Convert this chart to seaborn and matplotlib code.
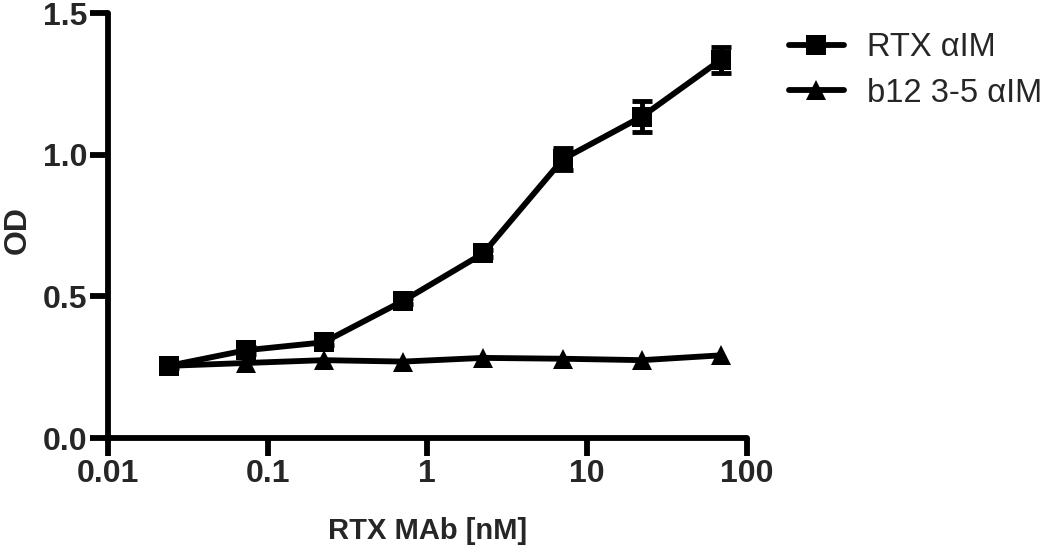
import numpy as np
import pandas as pd
import seaborn as sns
import matplotlib.pyplot as plt

# concentrations
conc_nm = [0.024, 0.073, 0.224, 0.708, 2.24, 7.08, 22.1, 68.8]

rtx_od = [0.255, 0.31, 0.338, 0.485, 0.652, 0.985, 1.135, 1.335]
rtx_err = [0.008, 0.012, 0.01, 0.01, 0.012, 0.04, 0.055, 0.045]
b12_od = [0.255, 0.265, 0.275, 0.27, 0.283, 0.28, 0.275, 0.292]

series_names = ['RTX \u03b1IM', 'b12 3-5 \u03b1IM']

sns.set_theme(style='white')
plt.rcParams['font.family'] = ['Liberation Sans', 'DejaVu Sans']

df = pd.DataFrame({
    'conc': conc_nm * 2,
    'od': rtx_od + b12_od,
    'series': [series_names[0]] * len(conc_nm) + [series_names[1]] * len(conc_nm),
})

fig = plt.figure(figsize=(10.5, 5.51), dpi=100)
ax = fig.add_axes([0.103, 0.205, 0.608, 0.771])

sns.lineplot(data=df, x='conc', y='od', hue='series', style='series',
             markers={series_names[0]: 's', series_names[1]: '^'}, dashes=False,
             palette=['black', 'black'], linewidth=4.2, markersize=14,
             markeredgewidth=0, ax=ax, legend=True)

# error bars for the RTX series
ax.errorbar(conc_nm, rtx_od, yerr=rtx_err, fmt='none', ecolor='black',
            elinewidth=3.5, capsize=7.5, capthick=3.5, zorder=3)

ax.set_xscale('log')
ax.set_xlim(0.01, 100)
ax.set_ylim(0, 1.5)
ax.set_xticks([0.01, 0.1, 1, 10, 100])
ax.set_xticklabels(['0.01', '0.1', '1', '10', '100'])
ax.minorticks_off()
ax.set_yticks([0.0, 0.5, 1.0, 1.5])
ax.set_yticklabels(['0.0', '0.5', '1.0', '1.5'])

for side in ['top', 'right']:
    ax.spines[side].set_visible(False)
for side in ['left', 'bottom']:
    ax.spines[side].set_linewidth(4.2)
    ax.spines[side].set_color('black')
    ax.spines[side].set_capstyle('round')

ax.tick_params(axis='both', which='major', length=13, width=4.2, color='black',
               labelsize=23, pad=2, direction='out', bottom=True, left=True)
for lab in ax.get_xticklabels() + ax.get_yticklabels():
    lab.set_fontweight('bold')

ax.set_xlabel('RTX MAb [nM]', fontsize=21, fontweight='bold', labelpad=20)
ax.set_ylabel('OD', fontsize=23, fontweight='bold')
ax.yaxis.set_label_coords(-0.118, 0.49)

handles, labels = ax.get_legend_handles_labels()
ax.legend(handles, labels, loc='upper left', bbox_to_anchor=(1.02, 1.025),
          frameon=False, fontsize=23.5, handlelength=1.7, handletextpad=0.7,
          labelspacing=0.45)

fig.savefig('out.png', dpi=100)
